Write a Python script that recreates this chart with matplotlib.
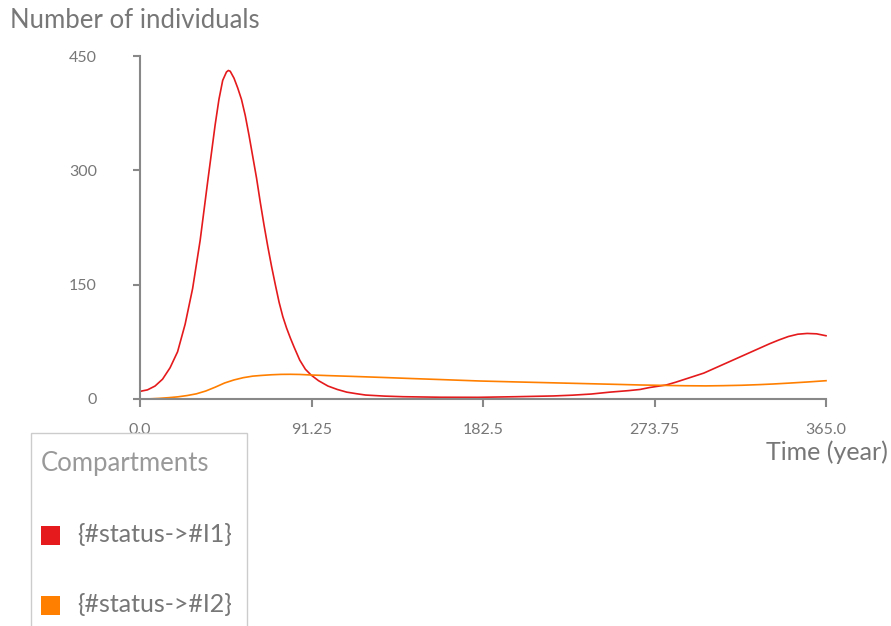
"""
Number of individuals per compartment over one year
"""

import matplotlib
matplotlib.use('Agg')
import matplotlib.pyplot as plt
from matplotlib.patches import Rectangle

# time (days) and values
t_i1 = [0, 4, 8, 12, 16, 20, 24, 28, 32, 36, 40, 42, 44, 46, 47, 48, 50, 52, 54,
        56, 58, 60, 62, 64, 66, 68, 70, 72, 74, 76, 78, 80, 82, 85, 88, 91, 95,
        100, 105, 110, 115, 120, 130, 140, 160, 180, 200, 220, 230, 240, 250, 260,
        266, 271, 275, 280, 285, 290, 295, 300, 305, 310, 315, 320, 325, 330, 335,
        340, 345, 350, 355, 360, 365]
i1 = [10, 12, 17, 26, 41, 62, 98, 145, 208, 285, 360, 393, 418, 429, 431, 430,
      421, 408, 393, 372, 346, 318, 290, 258, 228, 200, 174, 150, 127, 108, 93,
      80, 68, 51, 39, 31.5, 24, 17, 12.5, 9, 7, 5.2, 3.8, 3, 2.3, 2.2, 3, 4, 5,
      6.5, 9, 11, 12.5, 15, 16.5, 18.4, 22, 26, 30, 34, 39.5, 45, 50.5, 56, 61.5,
      67, 72.5, 77.5, 82, 85, 86, 85.5, 83]

t_i2 = [0, 5, 10, 15, 20, 25, 30, 35, 40, 45, 50, 55, 60, 65, 70, 75, 80, 85, 90,
        100, 115, 130, 145, 160, 181, 200, 220, 240, 255, 266, 280, 290, 301, 310,
        320, 330, 337, 345, 355, 365]
i2 = [0, 0.2, 0.8, 1.7, 2.8, 4.5, 6.8, 10.5, 15.5, 21, 25, 28, 30, 31, 31.8,
      32.3, 32.4, 32.2, 31.6, 30.7, 29.5, 28.2, 26.8, 25.5, 23.6, 22.4, 21.2, 20,
      19.1, 18.4, 17.8, 17.4, 17.2, 17.5, 18, 18.9, 19.7, 20.8, 22.3, 24]

x_ticks = [0.0, 91.25, 182.5, 273.75, 365.0]
x_tick_labels = ['0.0', '91.25', '182.5', '273.75', '365.0']
y_ticks = [0, 150, 300, 450]

series_names = ['{#status->#I1}', '{#status->#I2}']
series_colors = ['#e41a1c', '#ff7f00']

plt.rcParams['font.family'] = ['Lato', 'DejaVu Sans']

W, H = 891, 626
fig = plt.figure(figsize=(W / 100, H / 100), dpi=100)
ax = fig.add_axes([140 / W, 1 - 399 / H, 686 / W, 343 / H])

ax.plot(t_i1, i1, color=series_colors[0], linewidth=1.2, solid_joinstyle='round')
ax.plot(t_i2, i2, color=series_colors[1], linewidth=1.2, solid_joinstyle='round')

ax.set_xlim(0, 365)
ax.set_ylim(0, 450)
ax.set_xticks(x_ticks)
ax.set_xticklabels(x_tick_labels)
ax.set_yticks(y_ticks)

for side in ['top', 'right']:
    ax.spines[side].set_visible(False)
for side in ['left', 'bottom']:
    ax.spines[side].set_color('#888888')
    ax.spines[side].set_linewidth(1.5)

ax.tick_params(axis='x', length=6, width=1.5, color='#888888', labelcolor='#777777',
               labelsize=11.5, pad=11)
ax.tick_params(axis='y', length=5, width=1.5, color='#888888', labelcolor='#777777',
               labelsize=11.5, pad=26)
for line in ax.get_lines():
    line.set_clip_on(False)

# titles
fig.text(10 / W, 1 - 21 / H, 'Number of individuals', fontsize=18.5, color='#777777',
         ha='left', va='center')
fig.text(888 / W, 1 - 452 / H, 'Time (year)', fontsize=18, color='#777777',
         ha='right', va='center')

# legend box (runs off the bottom edge)
fig.patches.append(Rectangle((31 / W, -0.05), 216 / W, 0.05 + (626 - 433) / H,
                             transform=fig.transFigure, facecolor='none',
                             edgecolor='#cccccc', linewidth=1))
fig.text(41 / W, 1 - 463 / H, 'Compartments', fontsize=18.5, color='#999999',
         ha='left', va='center')
legend_rows = [535, 605]
for name, color, yp in zip(series_names, series_colors, legend_rows):
    fig.patches.append(Rectangle((41 / W, 1 - (yp + 10) / H), 19 / W, 19 / H,
                                 transform=fig.transFigure, facecolor=color,
                                 edgecolor='none'))
    fig.text(77 / W, 1 - yp / H, name, fontsize=18, color='#777777',
             ha='left', va='center')

plt.savefig('out.png', dpi=100)
